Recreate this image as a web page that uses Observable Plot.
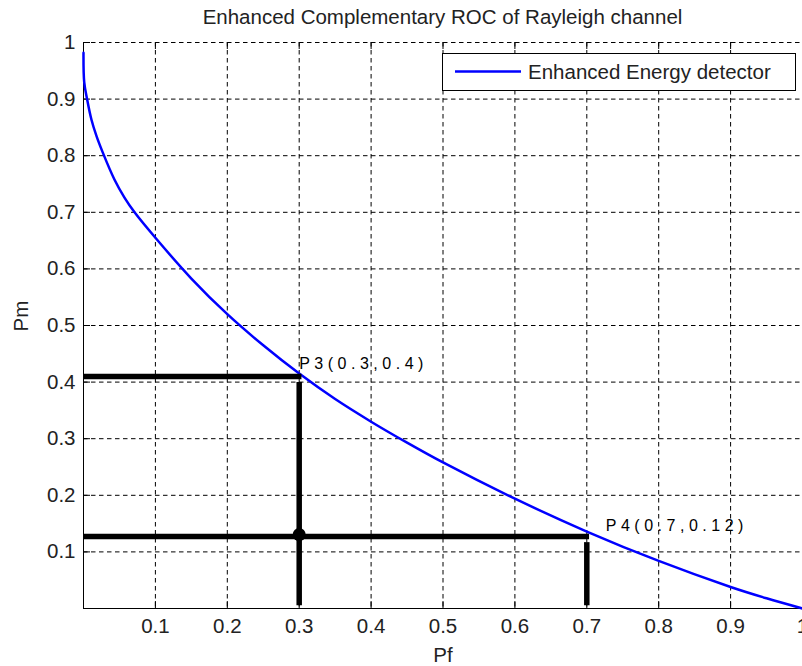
<!DOCTYPE html>
<html>
<head>
<meta charset="utf-8">
<script src="https://cdn.jsdelivr.net/npm/d3@7"></script>
<script src="https://cdn.jsdelivr.net/npm/@observablehq/plot@0.6"></script>
<style>
  body { margin: 0; background: #fff; }
  #chart { position: relative; width: 802px; height: 666px; overflow: hidden;
           font-family: "Liberation Sans", Arial, sans-serif; color: #222; }
  #title { height: 28px; padding-top: 2px; line-height: 30px; font-size: 20.5px;
           padding-left: 83px; text-align: center; white-space: nowrap; }
</style>
</head>
<body>
<div id="chart"><div id="title"></div></div>
<script>
// Labels
const titleText = "Enhanced Complementary ROC of Rayleigh channel";
const xLabel = "Pf";
const yLabel = "Pm";
const seriesName = "Enhanced Energy detector";

// Complementary ROC curve: probability of false alarm vs probability of miss
const pfValues = [0, 0.001, 0.005, 0.011, 0.018, 0.027, 0.043, 0.057, 0.071, 0.1, 0.15,
                  0.2, 0.25, 0.3, 0.35, 0.4, 0.45, 0.5, 0.6, 0.7, 0.8, 0.9, 0.95, 1];
const pmValues = [0.982, 0.93, 0.90, 0.864, 0.835, 0.805, 0.758, 0.726, 0.70, 0.655, 0.583,
                  0.52, 0.465, 0.415, 0.37, 0.33, 0.293, 0.258, 0.194, 0.136, 0.084, 0.038, 0.018, 0];

// Axis ticks
const xTicks = [0.1, 0.2, 0.3, 0.4, 0.5, 0.6, 0.7, 0.8, 0.9, 1];
const yTicks = [0.1, 0.2, 0.3, 0.4, 0.5, 0.6, 0.7, 0.8, 0.9, 1];

// Operating points with their drop lines
const pointNames = ["P3(0.3,0.4)", "P4(0.7,0.12)"];
const pointPf = [0.3, 0.7];
const pointPm = [0.41, 0.127];

const curve = pfValues.map((x, i) => ({pf: x, pm: pmValues[i]}));
const points = pointNames.map((name, i) => ({name, pf: pointPf[i], pm: pointPm[i]}));
// junction where the P3 vertical crosses the P4 horizontal
const junction = [{pf: pointPf[0], pm: pointPm[1]}];

document.getElementById("title").textContent = titleText;

const W = 802, H = 636;
const mTop = 12, mBottom = 58, mLeft = 83, mRight = 0;
const frameW = W - mLeft - mRight, frameH = H - mTop - mBottom;
const tickLen = 7;
const dash = "4.5,3.5";

function legendBox(index, scales, values, dims) {
  const x0 = dims.width - dims.marginRight - 360;
  const y0 = dims.marginTop + 11;
  const g = d3.create("svg:g");
  g.append("rect")
    .attr("x", x0 + 0.5).attr("y", y0 + 0.5)
    .attr("width", 353).attr("height", 37)
    .attr("fill", "#fff").attr("stroke", "#000");
  g.append("line")
    .attr("x1", x0 + 13).attr("x2", x0 + 79)
    .attr("y1", y0 + 18.5).attr("y2", y0 + 18.5)
    .attr("stroke", "#0000ff").attr("stroke-width", 2.5);
  g.append("text")
    .attr("x", x0 + 86).attr("y", y0 + 19).attr("dy", "0.35em")
    .attr("text-anchor", "start")
    .attr("fill", "#222").attr("font-size", 20.5)
    .text(seriesName);
  return g.node();
}

const chart = Plot.plot({
  width: W,
  height: H,
  marginTop: mTop,
  marginBottom: mBottom,
  marginLeft: mLeft,
  marginRight: mRight,
  style: {fontFamily: '"Liberation Sans", Arial, sans-serif', fontSize: "20.5px", color: "#222", background: "#fff", overflow: "visible"},
  x: {domain: [0, 1]},
  y: {domain: [0, 1]},
  marks: [
    // dashed grid
    Plot.ruleX(xTicks, {stroke: "#000", strokeWidth: 1, strokeDasharray: dash}),
    Plot.ruleY(yTicks, {stroke: "#000", strokeWidth: 1, strokeDasharray: dash}),
    // inward ticks (bottom, top, left)
    Plot.ruleX(xTicks, {stroke: "#000", insetTop: frameH - tickLen}),
    Plot.ruleX(xTicks, {stroke: "#000", insetBottom: frameH - tickLen}),
    Plot.ruleY(yTicks, {stroke: "#000", insetRight: frameW - tickLen}),
    // axis lines
    Plot.ruleX([0], {stroke: "#000"}),
    Plot.ruleY([0], {stroke: "#000"}),
    // tick labels
    Plot.axisX(xTicks, {tickSize: 0, tickPadding: 10, tickFormat: d => String(d), label: null}),
    Plot.axisY(yTicks, {tickSize: 0, tickPadding: 8, tickFormat: d => String(d), label: null}),
    // axis titles
    Plot.text([xLabel], {frameAnchor: "bottom", text: d => d, dy: 47, lineAnchor: "middle", fill: "#222"}),
    Plot.text([yLabel], {frameAnchor: "left", text: d => d, rotate: -90, dx: -62, dy: 6, lineAnchor: "middle", fill: "#222"}),
    // ROC curve
    Plot.line(curve, {x: "pf", y: "pm", stroke: "#0000ff", strokeWidth: 2.5, curve: "catmull-rom"}),
    // drop lines to the axes
    Plot.ruleY(points, {y: "pm", x1: 0, x2: "pf", stroke: "#000", strokeWidth: 5.5, insetRight: -2.75}),
    Plot.ruleX(points, {x: "pf", y1: 0, y2: "pm", stroke: "#000", strokeWidth: 5.5, insetTop: -2.75, insetBottom: -6}),
    Plot.dot(junction, {x: "pf", y: "pm", r: 6.5, fill: "#000", dy: -2}),
    // point labels
    Plot.text(points.slice(0, 1), {x: "pf", y: "pm", text: "name", textAnchor: "start", lineAnchor: "middle",
      dx: 0, dy: -13, fontSize: 16, fill: "#000"}),
    Plot.text(points.slice(1), {x: "pf", y: "pm", text: "name", textAnchor: "start", lineAnchor: "middle",
      dx: 19, dy: -11, fontSize: 16, fill: "#000"}),
    // legend
    legendBox
  ]
});

// widen the spacing of the point labels
chart.querySelectorAll("text").forEach(t => {
  if (pointNames.includes(t.textContent)) t.style.letterSpacing = "4.5px";
});

document.getElementById("chart").appendChild(chart);
</script>
</body>
</html>
